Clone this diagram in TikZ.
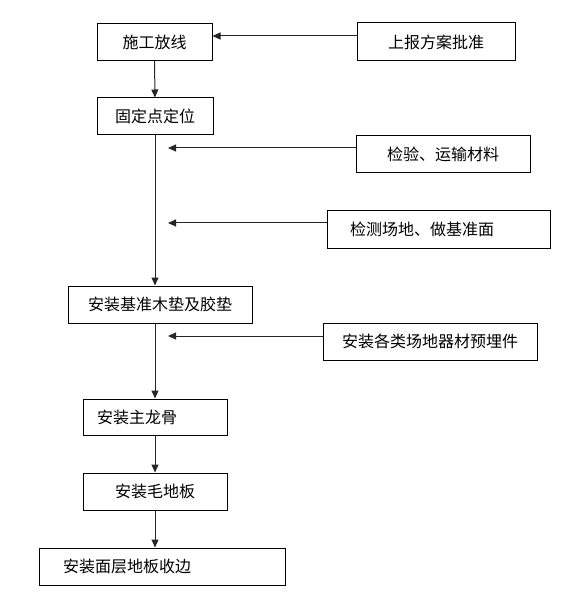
\documentclass[tikz,border=0pt]{standalone}
\usepackage{fontspec}
\setmainfont{Noto Sans CJK SC}
\usetikzlibrary{arrows.meta}
\def\FlowBlack{black}
\def\FlowGray{black!85}

\begin{document}
\begin{tikzpicture}
    [x=1pt,y=-1pt,
     stage/.style={rectangle,draw=\FlowBlack,line width=1pt,inner sep=0pt,minimum height=37pt,
       font=\fontsize{16pt}{18pt}\selectfont},
     flow/.style={-{Triangle[length=8pt,width=7pt]},line width=1pt,\FlowGray},
    ]
    \useasboundingbox (0,0) rectangle (577,609);
    % main column
    \node[stage,minimum width=115pt] (shigong) at (154.5,42) {施工放线};
    \node[stage,minimum width=116pt] (guding) at (155,116.5) {固定点定位};
    \node[stage,minimum width=184pt] (mudian) at (160,304.5) {安装基准木垫及胶垫};
    \node[stage,inner xsep=14pt,text width=116pt,align=left,minimum height=36pt] (longgu) at (155,417) {安装主龙骨};
    \node[stage,minimum width=144pt] (maoban) at (155,491.5) {安装毛地板};
    \node[stage,inner xsep=24pt,text width=198pt,align=left] (shoubian) at (162,566.5) {安装面层地板收边};
    % side inputs
    \node[stage,minimum width=158pt,minimum height=38pt] (shangbao) at (436,42) {上报方案批准};
    \node[stage,minimum width=174pt] (jianyan) at (443,154.5) {检验、运输材料};
    \node[stage,inner xsep=23pt,text width=177pt,align=left] (jiance) at (438.5,229.5) {检测场地、做基准面};
    \node[stage,minimum width=214pt] (maijian) at (430,341.5) {安装各类场地器材预埋件};
    \coordinate (inA) at (168,148);
    \coordinate (inB) at (168,223);
    \coordinate (inC) at (168,336);
    \path[flow] ([yshift=6pt]shangbao.west) edge ([yshift=6pt]shigong.east)
    (shigong) edge (guding)
    (guding.south) edge (guding.south |- mudian.north)
    (jianyan.west |- inA) edge (inA)
    (jiance.west |- inB) edge (inB)
    (maijian.west |- inC) edge (inC)
    (longgu.north |- mudian.south) edge (longgu.north)
    (longgu) edge (maoban)
    (maoban.south) edge (maoban.south |- shoubian.north);
  \end{tikzpicture}
\end{document}
